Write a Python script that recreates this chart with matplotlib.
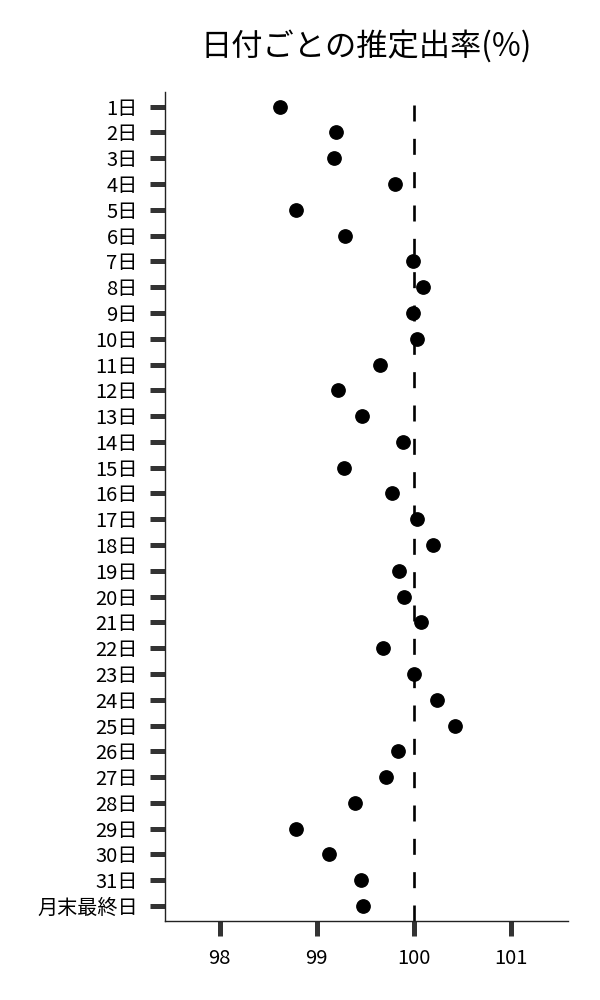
import matplotlib
matplotlib.use("Agg")
import matplotlib.pyplot as plt
import numpy as np

plt.rcParams['font.family'] = ['Noto Sans CJK JP', 'DejaVu Sans']

days = [f"{i}日" for i in range(1, 32)] + ["月末最終日"]
rates = [98.62, 99.20, 99.18, 99.81, 98.79, 99.29, 99.99, 100.10, 99.99, 100.03,
         99.65, 99.22, 99.47, 99.89, 99.28, 99.78, 100.03, 100.20, 99.85, 99.90,
         100.07, 99.68, 100.00, 100.24, 100.42, 99.84, 99.71, 99.39, 98.79, 99.13,
         99.46, 99.48]
ref_value = 100
xticks = [98, 99, 100, 101]
title = "日付ごとの推定出率(%)"

fig = plt.figure(figsize=(6, 10), dpi=100)
ax = fig.add_axes([0.2742, 0.0793, 0.6725, 0.8287])

ypos = np.arange(len(days))
ax.plot(rates, ypos, 'o', color='black', markersize=9.6, zorder=3)

lw = 1.9
ax.axvline(ref_value, color='black', linewidth=lw,
           linestyle=(0, (11.52 / lw, 12.48 / lw)), zorder=2)

ax.set_yticks(ypos)
ax.set_yticklabels(days)
ax.set_ylim(len(days) - 1 + 0.57, -0.57)

ax.set_xticks(xticks)
ax.set_xticklabels([str(x) for x in xticks])
ax.set_xlim(97.43, 101.59)

for s in ['top', 'right']:
    ax.spines[s].set_visible(False)
for s in ['left', 'bottom']:
    ax.spines[s].set_linewidth(1.0)
    ax.spines[s].set_color('#222222')

ax.tick_params(axis='both', length=10.8, width=3.6, color='#333333',
               labelsize=14.5, labelcolor='black', pad=8.5)

ax.set_title(title, fontsize=22.5, pad=26, color='black')

fig.savefig("out.png", dpi=100)
